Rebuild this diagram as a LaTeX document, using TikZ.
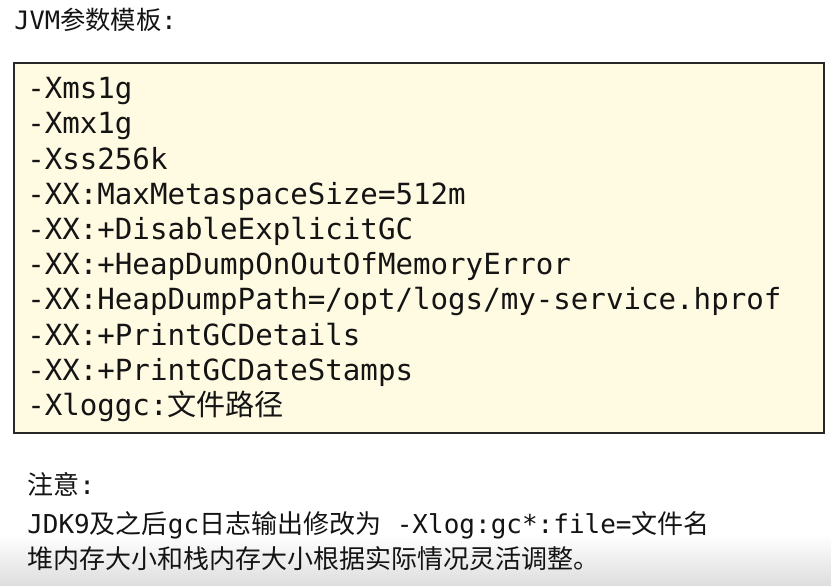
\documentclass[tikz,border=0pt]{standalone}
\usepackage{fontspec}
\setmonofont{DejaVu Sans Mono}
\newfontfamily\cjk{Noto Sans CJK SC}
\definecolor{boxfill}{RGB}{255,250,226}
\definecolor{boxline}{RGB}{40,40,40}
\definecolor{txt}{RGB}{20,20,20}
\tikzset{
  codeline/.style={anchor=base west, inner sep=0pt, text=txt, font=\ttfamily\fontsize{21.85}{26}\selectfont},
  plain/.style={anchor=base west, inner sep=0pt, text=txt, font=\ttfamily\fontsize{19}{23}\selectfont},
  note/.style={anchor=base west, inner sep=0pt, text=txt, font=\ttfamily\fontsize{19.5}{23}\selectfont},
  codebox/.style={draw=boxline, line width=1.2pt, fill=boxfill}
}
\begin{document}
\begin{tikzpicture}[x=0.75pt,y=-0.75pt]
\useasboundingbox (0,0) rectangle (831,585);
\fill[white] (0,0) rectangle (831,585);
\shade[top color=white, bottom color=black!13] (0,535) rectangle (831,585);
\node[plain] (title) at (14,29.5) {JVM{\cjk 参数模板}:};
\draw[codebox] (14,63) rectangle (824,433);
\foreach \t [count=\i] in {
  -Xms1g,
  -Xmx1g,
  -Xss256k,
  -XX:MaxMetaspaceSize=512m,
  -XX:+DisableExplicitGC,
  -XX:+HeapDumpOnOutOfMemoryError,
  -XX:HeapDumpPath=/opt/logs/my-service.hprof,
  -XX:+PrintGCDetails,
  -XX:+PrintGCDateStamps,
  -Xloggc:{\cjk 文件路径}}
  \node[codeline] (l\i) at (27,{98.7+35.2*(\i-1)}) {\t};
\node[note] (n1) at (27,494) {{\cjk 注意}:};
\node[note] (n2) at (27,533) {JDK9{\cjk 及之后}gc{\cjk 日志输出修改为} -Xlog:gc*:file={\cjk 文件名}};
\node[note] (n3) at (27,568) {{\cjk 堆内存大小和栈内存大小根据实际情况灵活调整。}};
\end{tikzpicture}
\end{document}
